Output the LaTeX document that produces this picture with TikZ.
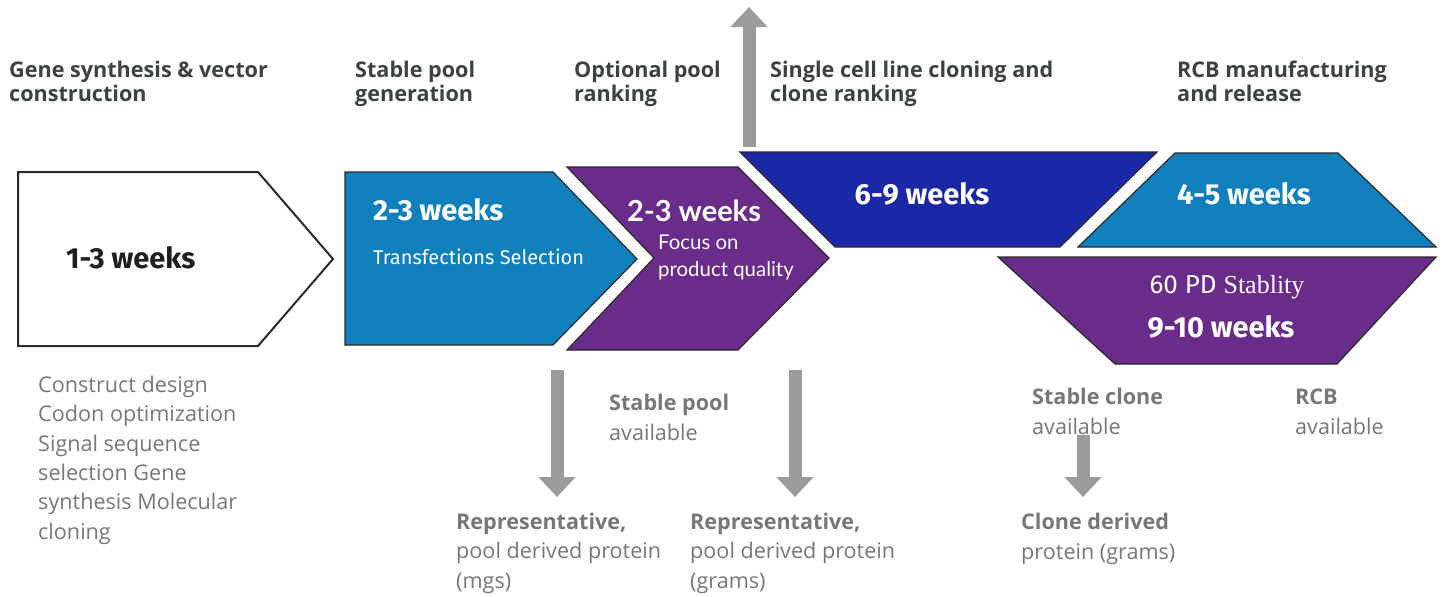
\documentclass[tikz,border=0pt]{standalone}
\usepackage{fontspec}
\setmainfont{Open Sans}
\newfontfamily\cfont{Fira Sans}
\newfontfamily\lfont{Lato}
\newfontfamily\sfont{Liberation Serif}
\usetikzlibrary{arrows.meta}
\definecolor{hdark}{HTML}{3A4242}
\definecolor{gtext}{HTML}{777777}
\definecolor{lblue}{HTML}{1080BD}
\definecolor{purp}{HTML}{6A2C8B}
\definecolor{dblue}{HTML}{1A27A6}
\definecolor{agray}{HTML}{9B9B9B}
\definecolor{edge}{HTML}{2A2A2A}
\begin{document}
\begin{tikzpicture}[x=1pt,y=-1pt,
  head/.style={anchor=base west,inner sep=0pt,align=left,text=hdark,font=\fontsize{21.6}{24}\selectfont\bfseries},
  body/.style={anchor=base west,inner sep=0pt,align=left,text=gtext,font=\fontsize{21.6}{29.3}\selectfont},
  wk/.style={inner sep=0pt,text=white,font=\cfont\fontsize{29}{32}\selectfont\bfseries},
  shapeedge/.style={draw=edge,line width=1.2pt,line join=miter},
  garrow/.style={draw=agray,line width=13pt,-{Triangle[width=36pt,length=20pt]}}
]
\useasboundingbox (0,0) rectangle (1444,597);

% shapes
\draw[shapeedge,line width=2pt,fill=white] (18,172) -- (258,172) -- (333,259) -- (258,346) -- (18,346) -- cycle;
\draw[shapeedge,fill=lblue] (345,172) -- (553,172) -- (637,259) -- (553,345) -- (345,345) -- cycle;
\draw[shapeedge,fill=purp] (567,167) -- (738,167) -- (829,258) -- (738,350) -- (567,350) -- (654,258) -- cycle;
\draw[shapeedge,fill=dblue] (740,152) -- (1157,152) -- (1060,247) -- (835,247) -- cycle;
\draw[shapeedge,fill=lblue] (1175,153) -- (1338,153) -- (1436,247) -- (1078,247) -- cycle;
\draw[shapeedge,fill=purp] (998,257) -- (1436,257) -- (1337,364) -- (1115,364) -- cycle;

% headings (base = last line baseline)
\node[head] (h1) at (9,101) {Gene synthesis \& vector\\construction};
\node[head] (h2) at (355,101) {Stable pool\\generation};
\node[head] (h3) at (574,101) {Optional pool\\ranking};
\node[head] (h4) at (770,101) {Single cell line cloning and\\clone ranking};
\node[head] (h5) at (1177,101) {RCB manufacturing\\and release};

% texts in shapes
\node[wk,text=black!88,anchor=base west] (w1) at (66,268) {1-3 weeks};
\node[wk,anchor=base west] (w2) at (373,220) {2-3 weeks};
\node[inner sep=0pt,anchor=base west,text=white,font=\cfont\fontsize{20}{24}\selectfont] (t2) at (373,264) {Transfections Selection};
\node[inner sep=0pt,anchor=base west,text=white,font=\lfont\fontsize{29}{32}\selectfont\bfseries] (w3) at (627,221) {2-3 weeks};
\node[inner sep=0pt,anchor=base west,align=left,text=white,font=\lfont\fontsize{20.4}{27}\selectfont] (t3) at (658,276) {Focus on\\product quality};
\node[wk,anchor=base] (w4) at (922,204) {6-9 weeks};
\node[wk,anchor=base] (w5) at (1244,204) {4-5 weeks};
\node[inner sep=0pt,anchor=base,text=white,font=\cfont\fontsize{26}{30}\selectfont] (t6) at (1227,293) {60 PD {\sfont\fontsize{26}{30}\selectfont Stablity}};
\node[wk,anchor=base] (w6) at (1221,337) {9-10 weeks};

% lower texts (base = last line baseline)
\node[body] (b1) at (38,539) {Construct design\\Codon optimization\\Signal sequence\\selection Gene\\synthesis Molecular\\cloning};
\node[body] (b2) at (609,440) {\textbf{Stable pool}\\available};
\node[body] (b3) at (456,588) {\textbf{Representative,}\\pool derived protein\\(mgs)};
\node[body] (b4) at (690,588) {\textbf{Representative,}\\pool derived protein\\(grams)};
\node[body] (b5) at (1032,434) {\textbf{Stable clone}\\available};
\node[body] (b6) at (1295,434) {\textbf{RCB}\\available};
\node[body] (b7) at (1021,559) {\textbf{Clone derived}\\protein (grams)};

% arrows
\coordinate (u0) at (749,147); \coordinate (u1) at (749,7);
\coordinate (a0) at (557,370); \coordinate (a1) at (557,497);
\coordinate (c0) at (795,370); \coordinate (c1) at (795,497);
\coordinate (d0) at (1083,435); \coordinate (d1) at (1083,497);
\draw[garrow] (u0) -- (u1);
\draw[garrow] (a0) -- (a1);
\draw[garrow] (c0) -- (c1);
\draw[garrow] (d0) -- (d1);
\end{tikzpicture}
\end{document}
